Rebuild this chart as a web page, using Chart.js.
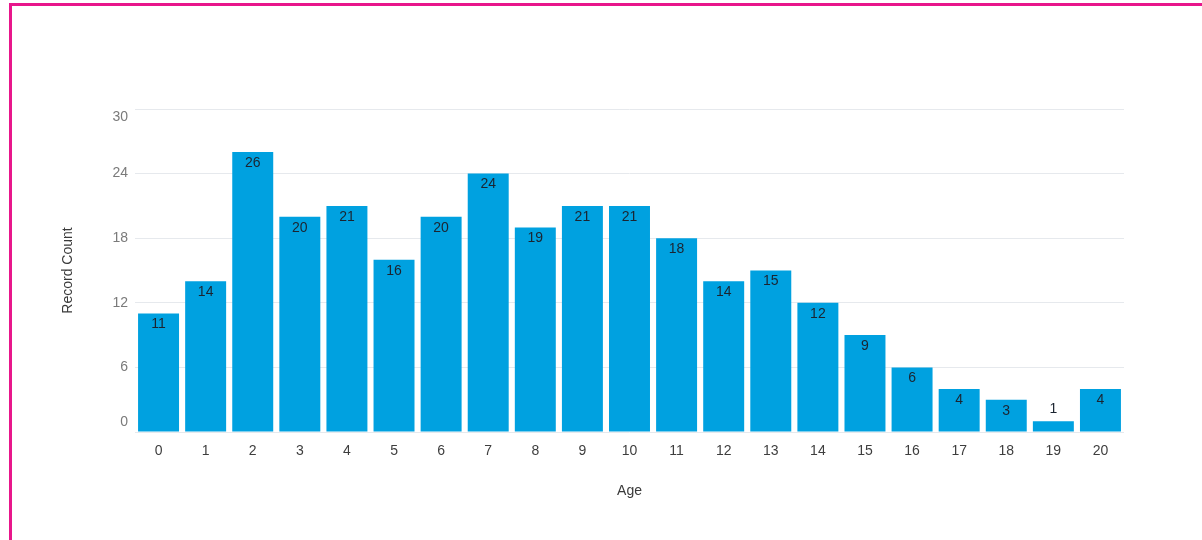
<!DOCTYPE html>
<html>
<head>
<meta charset="utf-8">
<script src="https://cdn.jsdelivr.net/npm/chart.js@4.4.1/dist/chart.umd.min.js"></script>
<style>
  html, body { margin: 0; padding: 0; background: #fff; }
  #wrap { position: relative; width: 1202px; height: 540px; overflow: hidden; }
  #frame { position: absolute; left: 9px; top: 3px; width: 1300px; height: 700px;
           border-left: 3px solid #e8168b; border-top: 3px solid #e8168b; }
  canvas { position: absolute; left: 0; top: 0; }
</style>
</head>
<body>
<div id="wrap">
  <div id="frame"></div>
  <canvas id="chart" width="1202" height="540"></canvas>
</div>
<script>
const ages = ['0', '1', '2', '3', '4', '5', '6', '7', '8', '9', '10',
              '11', '12', '13', '14', '15', '16', '17', '18', '19', '20']
const recordCounts = [11, 14, 26, 20, 21, 16, 20, 24, 19, 21, 21,
                      18, 14, 15, 12, 9, 6, 4, 3, 1, 4]
const yTicks = [0, 6, 12, 18, 24, 30]

const FONT = '"Liberation Sans", Arial, sans-serif'

// value labels, y tick labels (clamped inside the plot like the original) and axis titles
const textPlugin = {
  id: 'textPlugin',
  afterDatasetsDraw(chart) {
    const ctx = chart.ctx
    const meta = chart.getDatasetMeta(0)
    const ys = chart.scales.y
    const area = chart.chartArea
    ctx.save()
    ctx.font = '14px ' + FONT
    ctx.textAlign = 'center'
    ctx.textBaseline = 'middle'
    ctx.fillStyle = '#1b2430'
    meta.data.forEach((bar, i) => {
      const h = bar.base - bar.y
      const y = h > 22 ? bar.y + 11 : bar.y - 12
      ctx.fillText(String(recordCounts[i]), bar.x, y)
    })

    ctx.fillStyle = '#7a7a7a'
    ctx.textAlign = 'right'
    yTicks.forEach(v => {
      let py = ys.getPixelForValue(v)
      py = Math.min(Math.max(py, ys.top + 8), ys.bottom - 10)
      ctx.fillText(String(v), area.left - 7, py)
    })

    ctx.fillStyle = '#3a3a3a'
    ctx.textAlign = 'center'
    ctx.fillText('Age', (area.left + area.right) / 2, 491)
    ctx.translate(68, (area.top + area.bottom) / 2)
    ctx.rotate(-Math.PI / 2)
    ctx.fillText('Record Count', 0, 0)
    ctx.restore()
  }
}

new Chart(document.getElementById('chart'), {
  type: 'bar',
  data: {
    labels: ages,
    datasets: [{
      label: 'Record Count',
      data: recordCounts,
      backgroundColor: '#00a1e0',
      categoryPercentage: 1,
      barPercentage: 0.87
    }]
  },
  options: {
    responsive: false,
    animation: false,
    devicePixelRatio: 1,
    layout: { padding: { top: 109, right: 78, bottom: 0, left: 0 } },
    plugins: {
      legend: { display: false },
      tooltip: { enabled: false }
    },
    scales: {
      x: {
        grid: { display: false, drawTicks: false },
        border: { display: false },
        ticks: { color: '#3e3e3e', font: { family: FONT, size: 14 }, padding: 11 },
        afterFit(scale) { scale.height = 108 }
      },
      y: {
        min: 0,
        max: 30,
        ticks: { stepSize: 6, display: false },
        grid: { color: '#e6e9ed', drawTicks: false },
        border: { display: false },
        afterFit(scale) { scale.width = 135 }
      }
    }
  },
  plugins: [textPlugin]
})
</script>
</body>
</html>
